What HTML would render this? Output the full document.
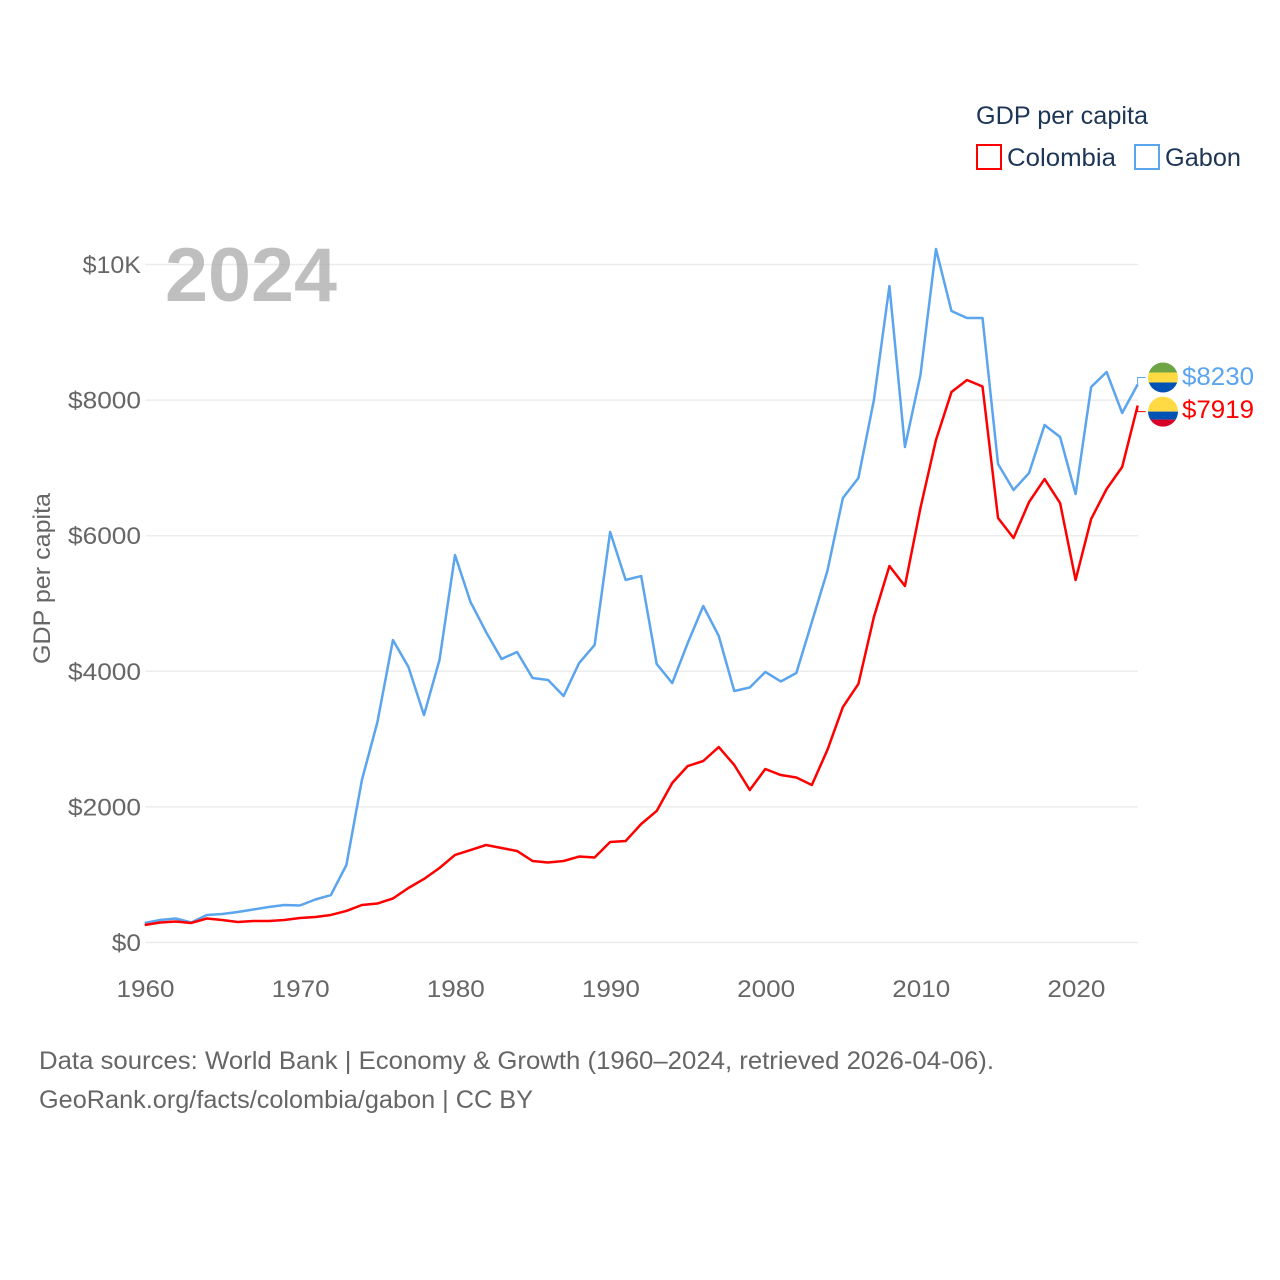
<!DOCTYPE html>
<html lang="en">
<head>
<meta charset="utf-8">
<title>GDP per capita: Colombia and Gabon</title>
<style>
html,body{margin:0;padding:0;background:#fff;}
svg{display:block;}
text{font-family:"Liberation Sans",sans-serif;}
.tick{font-size:24px;fill:#666;}
.legend{font-size:25px;fill:#1d3557;}
.foot{font-size:25px;fill:#666;}
</style>
</head>
<body>
<svg id="chart" xmlns="http://www.w3.org/2000/svg" width="1280" height="1280" viewBox="0 0 1280 1280">
  <defs>
    <clipPath id="clip-gabon"><circle id="clip-gabon-circle" r="15"></circle></clipPath>
    <clipPath id="clip-colombia"><circle id="clip-colombia-circle" r="15"></circle></clipPath>
  </defs>
  <rect width="1280" height="1280" fill="#fff"></rect>
  <g id="grid"></g>
  <g id="yticks"></g>
  <g id="xticks"></g>
  <text x="165" y="301" font-size="76" font-weight="700" fill="#a9a9a9" fill-opacity="0.75" textLength="172" lengthAdjust="spacingAndGlyphs">2024</text>
  <text transform="translate(50,664) rotate(-90)" font-size="24" fill="#666" textLength="171" lengthAdjust="spacingAndGlyphs">GDP per capita</text>
  <g id="series"></g>
  <g id="endmarks"></g>
  <g>
    <text class="legend" x="976" y="124" textLength="172" lengthAdjust="spacingAndGlyphs">GDP per capita</text>
    <rect x="977" y="145" width="24" height="24" fill="none" stroke="#ff0000" stroke-width="2"></rect>
    <text class="legend" x="1007" y="166" textLength="109" lengthAdjust="spacingAndGlyphs">Colombia</text>
    <rect x="1135" y="145" width="24" height="24" fill="none" stroke="#5ba4ee" stroke-width="2"></rect>
    <text class="legend" x="1165" y="166" textLength="76" lengthAdjust="spacingAndGlyphs">Gabon</text>
  </g>
  <text class="foot" x="39" y="1069" textLength="955" lengthAdjust="spacingAndGlyphs">Data sources: World Bank | Economy &amp; Growth (1960–2024, retrieved 2026-04-06).</text>
  <text class="foot" x="39" y="1108" textLength="494" lengthAdjust="spacingAndGlyphs">GeoRank.org/facts/colombia/gabon | CC BY</text>
</svg>
<script>
const startYear = 1960;
const gabonValues = [288,332,354,295,406,420,450,487,524,553,546,634,700,1143,2397,3252,4462,4063,3355,4167,5715,5022,4580,4181,4285,3901,3872,3636,4122,4388,6055,5347,5405,4108,3827,4417,4963,4521,3709,3761,3990,3850,3975,4727,5479,6556,6851,8001,9683,7308,8370,10229,9314,9211,9211,7058,6674,6925,7633,7456,6615,8193,8414,7810,8230];
const colombiaValues = [258,295,310,288,354,332,302,317,317,332,361,376,406,465,553,575,649,804,937,1099,1291,1364,1438,1394,1350,1202,1180,1202,1268,1254,1482,1497,1748,1940,2353,2603,2677,2883,2618,2249,2559,2470,2434,2323,2839,3473,3813,4801,5553,5258,6409,7412,8119,8296,8201,6261,5966,6497,6836,6482,5347,6246,6689,7013,7919];
const yTickValues = [0,2000,4000,6000,8000,10000];
const yTickLabels = ["$0","$2000","$4000","$6000","$8000","$10K"];
const xTickYears = [1960,1970,1980,1990,2000,2010,2020];

const NS = "http://www.w3.org/2000/svg";
const xScale = function (year) { return 144.7 + (year - 1960) * 15.515; };
const yScale = function (value) { return 942.5 - value * 0.0678; };
const lineFor = function (values) {
  return values.map(function (v, i) {
    return (i ? "L" : "M") + xScale(startYear + i).toFixed(2) + " " + yScale(v).toFixed(2);
  }).join(" ");
};
const make = function (tag, attrs, parent, text) {
  const el = document.createElementNS(NS, tag);
  Object.keys(attrs).forEach(function (k) { el.setAttribute(k, attrs[k]); });
  if (text !== undefined) el.textContent = text;
  parent.appendChild(el);
  return el;
};

const grid = document.getElementById("grid");
const yticks = document.getElementById("yticks");
const xticks = document.getElementById("xticks");
const series = document.getElementById("series");
const endmarks = document.getElementById("endmarks");

yTickValues.forEach(function (v, i) {
  const gl = make("line", {x1: 145.5, x2: 1138, y1: yScale(v), y2: yScale(v), stroke: "#ececec", "stroke-width": 1.5}, grid);
  
  
  const lab = make("text", {class: "tick", x: 141, y: yScale(v) + 8.5, "text-anchor": "end", textLength: yTickLabels[i].length * 14.6, lengthAdjust: "spacingAndGlyphs"}, yticks, yTickLabels[i]);
  
  
});

xTickYears.forEach(function (yr) {
  const lab = make("text", {class: "tick", x: xScale(yr) + 0.8, y: 997, "text-anchor": "middle", textLength: 58, lengthAdjust: "spacingAndGlyphs"}, xticks, String(yr));
  
  
});

const gabonLine = make("path", {d: lineFor(gabonValues), fill: "none", stroke: "#5ba4ee", "stroke-width": 2.5, "stroke-linejoin": "round"}, series);


const colombiaLine = make("path", {d: lineFor(colombiaValues), fill: "none", stroke: "#ff0000", "stroke-width": 2.5, "stroke-linejoin": "round"}, series);



const gabonLast = gabonValues[gabonValues.length - 1];
const colombiaLast = colombiaValues[colombiaValues.length - 1];
const endX = xScale(startYear + gabonValues.length - 1);
const gabonFlagY = yScale(gabonLast) - 7;
const colombiaFlagY = yScale(colombiaLast) + 6;
const flagX = 1163;

const gabonLeader = make("path", {d: "M" + endX + " " + yScale(gabonLast) + " V" + (gabonFlagY) + " H" + (endX + 8), fill: "none", stroke: "#5ba4ee", "stroke-width": 1}, endmarks);


const colombiaLeader = make("path", {d: "M" + endX + " " + yScale(colombiaLast) + " V" + (colombiaFlagY) + " H" + (endX + 8), fill: "none", stroke: "#ff0000", "stroke-width": 1}, endmarks);



document.getElementById("clip-gabon-circle").setAttribute("cx", flagX);
document.getElementById("clip-gabon-circle").setAttribute("cy", gabonFlagY);
document.getElementById("clip-colombia-circle").setAttribute("cx", flagX);
document.getElementById("clip-colombia-circle").setAttribute("cy", colombiaFlagY);

const gabonFlag = make("g", {"clip-path": "url(#clip-gabon)"}, endmarks);


make("rect", {x: flagX - 15, y: gabonFlagY - 15, width: 30, height: 10, fill: "#6da544"}, gabonFlag);
make("rect", {x: flagX - 15, y: gabonFlagY - 5, width: 30, height: 10, fill: "#ffda44"}, gabonFlag);
make("rect", {x: flagX - 15, y: gabonFlagY + 5, width: 30, height: 10, fill: "#0052b4"}, gabonFlag);

const colombiaFlag = make("g", {"clip-path": "url(#clip-colombia)"}, endmarks);


make("rect", {x: flagX - 15, y: colombiaFlagY - 15, width: 30, height: 15, fill: "#ffda44"}, colombiaFlag);
make("rect", {x: flagX - 15, y: colombiaFlagY, width: 30, height: 8, fill: "#0052b4"}, colombiaFlag);
make("rect", {x: flagX - 15, y: colombiaFlagY + 8, width: 30, height: 7, fill: "#d80027"}, colombiaFlag);

const gabonLabel = make("text", {x: 1182, y: gabonFlagY + 7.5, "font-size": 25, fill: "#5ba4ee", textLength: 72, lengthAdjust: "spacingAndGlyphs"}, endmarks, "$" + gabonLast);


const colombiaLabel = make("text", {x: 1182, y: colombiaFlagY + 6.5, "font-size": 25, fill: "#ff0000", textLength: 72, lengthAdjust: "spacingAndGlyphs"}, endmarks, "$" + colombiaLast);


</script>
</body>
</html>
